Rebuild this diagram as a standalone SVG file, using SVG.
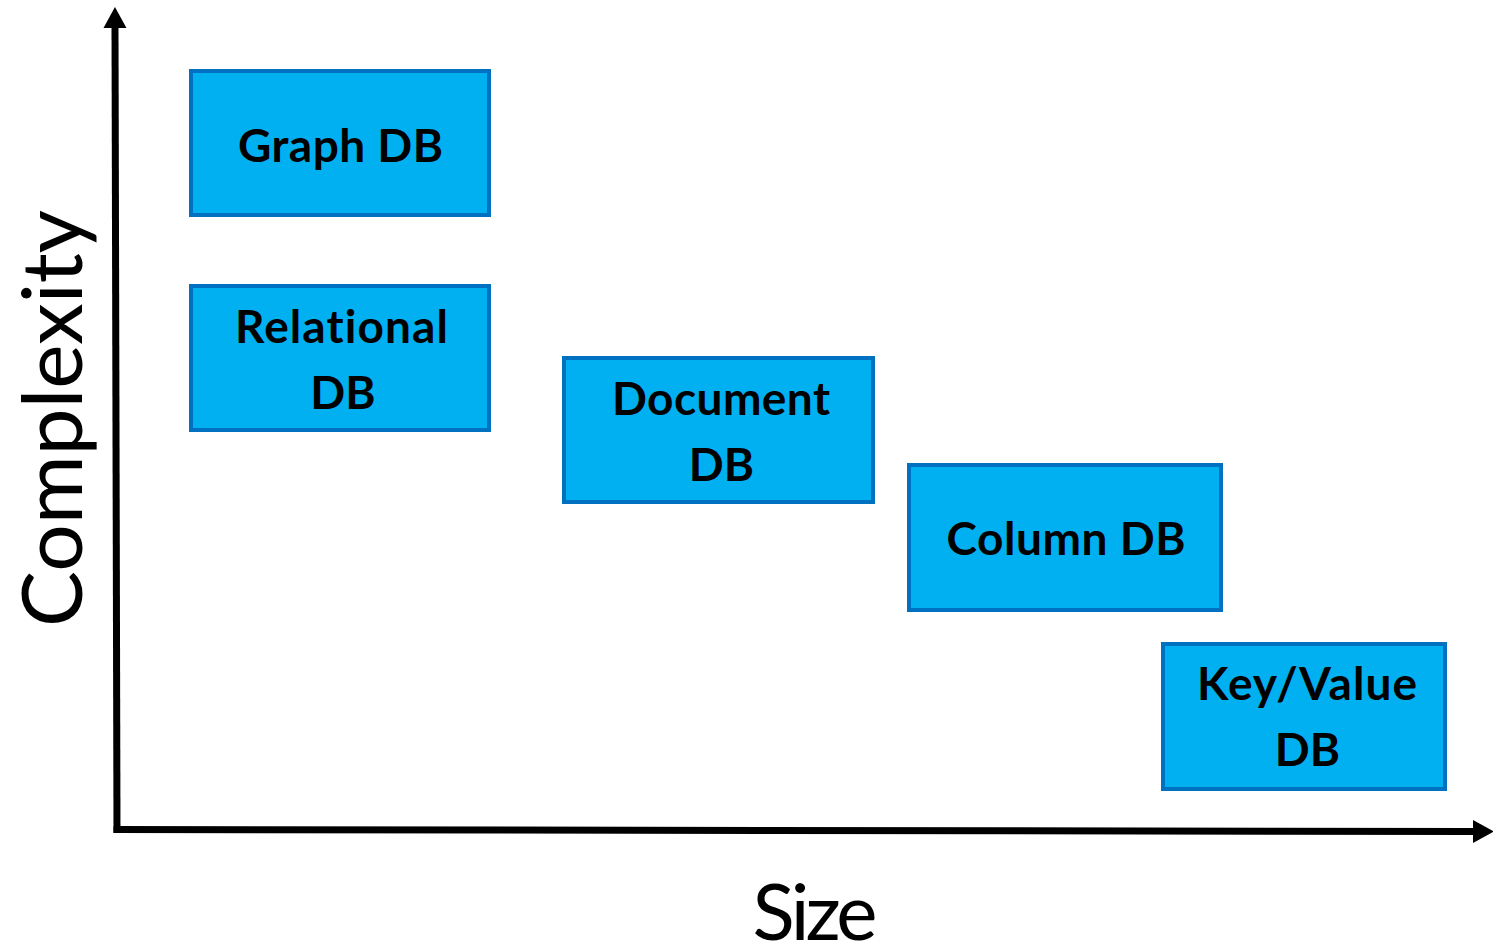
<svg xmlns="http://www.w3.org/2000/svg" width="1493" height="947" viewBox="0 0 1493 947">
  <defs>
    <style>
      .box { fill: #00B0F0; stroke: #0070C0; stroke-width: 4; }
      .lbl { font-family: Lato, "Liberation Sans", sans-serif; font-weight: bold; font-size: 46px; fill: #000; text-anchor: middle; font-variant-ligatures: none; }
      .axis { stroke: #000; stroke-width: 7; fill: none; }
      .axislbl { font-family: Lato, "Liberation Sans", sans-serif; font-weight: normal; fill: #000; text-anchor: middle; }
    </style>
    <marker id="arrow" markerUnits="userSpaceOnUse" markerWidth="22" markerHeight="24" refX="0" refY="11.5" orient="auto" viewBox="0 0 22 24">
      <path d="M0,0 L21,11.5 L0,23 Z" fill="#000"/>
    </marker>
  </defs>
  <rect width="1493" height="947" fill="#fff"/>

  <g id="axes">
    <line class="axis" x1="117" y1="833" x2="115" y2="28" marker-end="url(#arrow)"/>
    <line class="axis" x1="113.5" y1="829.5" x2="1473" y2="831.5" marker-end="url(#arrow)"/>
  </g>

  <g id="axis-labels">
    <text class="axislbl" font-size="84" transform="translate(82,418.5) rotate(-90)" x="0" y="0" textLength="417">Complexity</text>
    <text class="axislbl" font-size="78" x="815" y="940" textLength="125">Size</text>
  </g>

  <g id="graph-db">
    <rect class="box" x="191" y="71" width="298" height="144"/>
    <text class="lbl" x="340.5" y="162" textLength="205">Graph DB</text>
  </g>

  <g id="relational-db">
    <rect class="box" x="191" y="286" width="298" height="144"/>
    <text class="lbl" x="341.5" y="343" textLength="213">Relational</text>
    <text class="lbl" x="343" y="409">DB</text>
  </g>

  <g id="document-db">
    <rect class="box" x="564" y="358" width="309" height="144"/>
    <text class="lbl" x="721" y="415" textLength="218">Document</text>
    <text class="lbl" x="721.5" y="481">DB</text>
  </g>

  <g id="column-db">
    <rect class="box" x="909" y="465" width="312" height="145"/>
    <text class="lbl" x="1066" y="555" textLength="239">Column DB</text>
  </g>

  <g id="keyvalue-db">
    <rect class="box" x="1163" y="644" width="282" height="145"/>
    <text class="lbl" x="1307" y="700" textLength="220">Key/Value</text>
    <text class="lbl" x="1307.5" y="766">DB</text>
  </g>
</svg>
